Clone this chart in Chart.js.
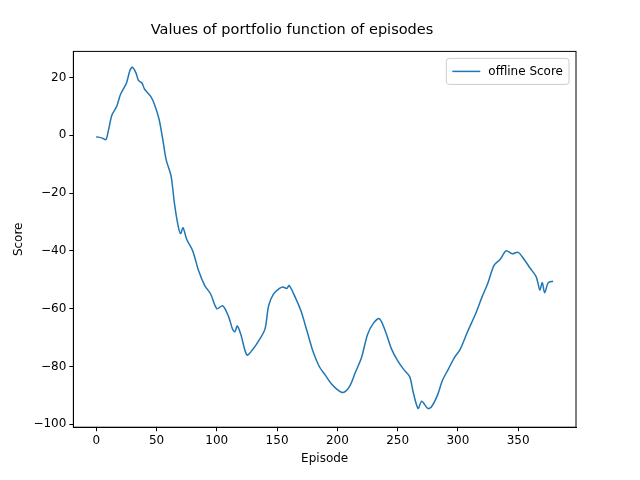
<!DOCTYPE html>
<html>
<head>
<meta charset="utf-8">
<script src="https://cdn.jsdelivr.net/npm/chart.js@4"></script>
<style>
  html, body { margin: 0; padding: 0; background: #fff; }
  #wrap { width: 640px; height: 480px; }
</style>
</head>
<body>
<div id="wrap"><canvas id="chart"></canvas></div>
<script>
// values
const episodes = [0,5,8,10,13,17,20,25,28,30,33,35,38,40,45,48,52,55,58,62,65,68,70,72,75,80,85,90,95,100,105,110,113,115,117,120,125,130,135,140,143,147,152,155,158,160,165,170,175,180,185,190,195,200,205,210,215,220,225,230,235,240,245,250,255,260,263,267,270,275,278,283,287,292,297,302,308,315,320,325,330,335,340,345,350,355,360,365,368,370,372,375,379];
const scores = [-0.5,-1,-1.5,1.5,7,10,14,18,22.5,23.5,21.5,19,18,16,13.5,11,5.7,-1,-8.5,-14,-24,-31.5,-34,-32,-36,-40,-47,-52,-55,-60,-59,-63,-67,-68,-66,-69,-76,-74,-71,-67,-59,-55,-53,-52.5,-53,-52,-56,-61,-68,-75,-80,-83,-86,-88,-89,-87,-82,-77,-69,-65,-63.5,-68,-74,-78,-81,-83.5,-89,-94.5,-92,-94.5,-94,-90,-85,-81,-77,-74,-68,-61.5,-56,-51,-45,-43,-40,-41,-40.5,-43,-46,-49,-53.5,-51,-54.5,-51,-50.5];
const xTicks = [0,50,100,150,200,250,300,350];
const yTicks = [-100,-80,-60,-40,-20,0,20];

const points = episodes.map((e, i) => ({ x: e, y: scores[i] }));
const font = { family: 'DejaVu Sans', size: 12 };
const fmt = v => String(v).replace('-', '\u2212');

new Chart(document.getElementById('chart').getContext('2d'), {
  type: 'line',
  data: {
    datasets: [{
      label: 'offline Score',
      data: points,
      borderColor: '#1f77b4',
      borderWidth: 1.5,
      pointRadius: 0,
      tension: 0.3
    }]
  },
  options: {
    responsive: true,
    maintainAspectRatio: false,
    animation: false,
    layout: { padding: { left: 8, right: 64, top: 22, bottom: 10 } },
    plugins: {
      title: { display: true, text: 'Values of portfolio function of episodes', color: '#000', font: { family: 'DejaVu Sans', size: 14.5, weight: 'normal' }, padding: { bottom: 12 } },
      legend: { display: false },
      tooltip: { enabled: false }
    },
    scales: {
      x: {
        type: 'linear',
        min: -19, max: 398,
        afterBuildTicks: axis => { axis.ticks = xTicks.map(v => ({ value: v })); },
        grid: { display: true, drawOnChartArea: false, tickLength: 4, color: '#000' },
        border: { color: '#000' },
        ticks: { color: '#000', font: font, padding: 2, callback: fmt },
        title: { display: true, text: 'Episode', color: '#000', font: font, padding: { top: 2 } }
      },
      y: {
        min: -101, max: 29,
        afterBuildTicks: axis => { axis.ticks = yTicks.map(v => ({ value: v })); },
        grid: { display: true, drawOnChartArea: false, tickLength: 4, color: '#000' },
        border: { color: '#000' },
        ticks: { color: '#000', font: font, padding: 3, callback: fmt },
        title: { display: true, text: 'Score', color: '#000', font: font }
      }
    }
  },
  plugins: [{
    id: 'frameAndLegend',
    afterDraw(c) {
      const a = c.chartArea, ctx = c.ctx;
      ctx.save(); ctx.strokeStyle = '#000'; ctx.lineWidth = 1;
      ctx.strokeRect(a.left, a.top, a.right - a.left, a.bottom - a.top);
      const label = c.data.datasets[0].label;
      ctx.font = '12px "DejaVu Sans"';
      const w = ctx.measureText(label).width + 48, h = 26;
      const x = a.right - w - 7, y = a.top + 7;
      ctx.strokeStyle = '#ccc';
      ctx.fillStyle = 'rgba(255,255,255,0.8)';
      ctx.beginPath(); ctx.roundRect(x, y, w, h, 3); ctx.fill(); ctx.stroke();
      ctx.strokeStyle = '#1f77b4'; ctx.lineWidth = 1.5;
      ctx.beginPath(); ctx.moveTo(x + 6, y + h / 2); ctx.lineTo(x + 34, y + h / 2); ctx.stroke();
      ctx.fillStyle = '#000'; ctx.textBaseline = 'middle';
      ctx.fillText(label, x + 42, y + h / 2);
      ctx.restore();
    }
  }]
});
</script>
</body>
</html>
